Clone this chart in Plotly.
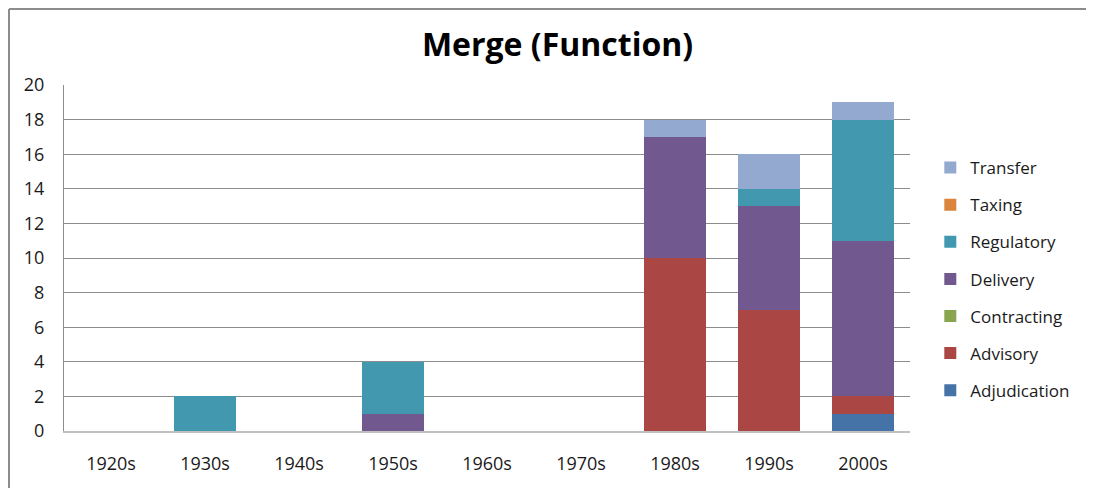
import plotly.graph_objects as go

decades = ["1920s", "1930s", "1940s", "1950s", "1960s", "1970s", "1980s", "1990s", "2000s"]
adjudication = [0, 0, 0, 0, 0, 0, 0, 0, 1]
advisory = [0, 0, 0, 0, 0, 0, 10, 7, 1]
contracting = [0, 0, 0, 0, 0, 0, 0, 0, 0]
delivery = [0, 0, 0, 1, 0, 0, 7, 6, 9]
regulatory = [0, 2, 0, 3, 0, 0, 0, 1, 7]
taxing = [0, 0, 0, 0, 0, 0, 0, 0, 0]
transfer = [0, 0, 0, 0, 0, 0, 1, 2, 1]
y_ticks = [0, 2, 4, 6, 8, 10, 12, 14, 16, 18, 20]

series = [
    ("Adjudication", adjudication, "#4572A7"),
    ("Advisory", advisory, "#AA4643"),
    ("Contracting", contracting, "#89A54E"),
    ("Delivery", delivery, "#71588F"),
    ("Regulatory", regulatory, "#4198AF"),
    ("Taxing", taxing, "#DB843D"),
    ("Transfer", transfer, "#93A9CF"),
]

FONT = "Open Sans, sans-serif"

fig = go.Figure()
n = len(series)
for i, (name, vals, color) in enumerate(series):
    fig.add_trace(go.Bar(x=decades, y=vals, name=name, marker=dict(color=color, line=dict(width=0)),
                         legendgroup=name, legendrank=1000 + (n - i)))

# page body has an 8px margin, so the figure is laid out in its own coordinates
W, H = 1086, 480
L, T = 56, 77
pw, ph = 846, 346
R, B = W - L - pw, H - T - ph

fig.update_layout(
    width=W, height=H,
    barmode="stack", bargap=0.35,
    margin=dict(l=L, r=R, t=T, b=B),
    paper_bgcolor="white", plot_bgcolor="white",
    font=dict(family=FONT, size=17, color="#1a1a1a"),
    title=dict(text="<b>Merge (Function)</b>", x=0.506, xanchor="center", y=0.923, yanchor="middle",
               font=dict(family=FONT, size=32, color="#000")),
    legend=dict(x=1.024, xanchor="left", y=0.812, yanchor="top", traceorder="grouped",
                tracegroupgap=12, font=dict(family=FONT, size=17, color="#1a1a1a"),
                itemwidth=30, bgcolor="rgba(0,0,0,0)"),
    showlegend=True,
)
fig.update_xaxes(showline=True, linecolor="#C0C0C0", linewidth=2, ticks="", showgrid=False,
                 ticklabelstandoff=15, tickfont=dict(size=18))
fig.update_yaxes(range=[0, 20], tickvals=y_ticks, showgrid=True, gridcolor="#8C8C8C", gridwidth=1,
                 showline=True, linecolor="#8C8C8C", linewidth=1, ticks="", zeroline=False,
                 ticklabelstandoff=15, tickfont=dict(size=18))

# outer chart border (left and top edges)
bx = (1 - L) / pw
by = 1 + (T - 1) / ph
fig.add_shape(type="line", xref="paper", yref="paper", x0=bx, x1=bx, y0=-(B + 2) / ph, y1=by,
              line=dict(color="#8C8C8C", width=2))
fig.add_shape(type="line", xref="paper", yref="paper", x0=bx, x1=1 + (R + 2) / pw, y0=by, y1=by,
              line=dict(color="#8C8C8C", width=2))

fig.write_html("out.html")
